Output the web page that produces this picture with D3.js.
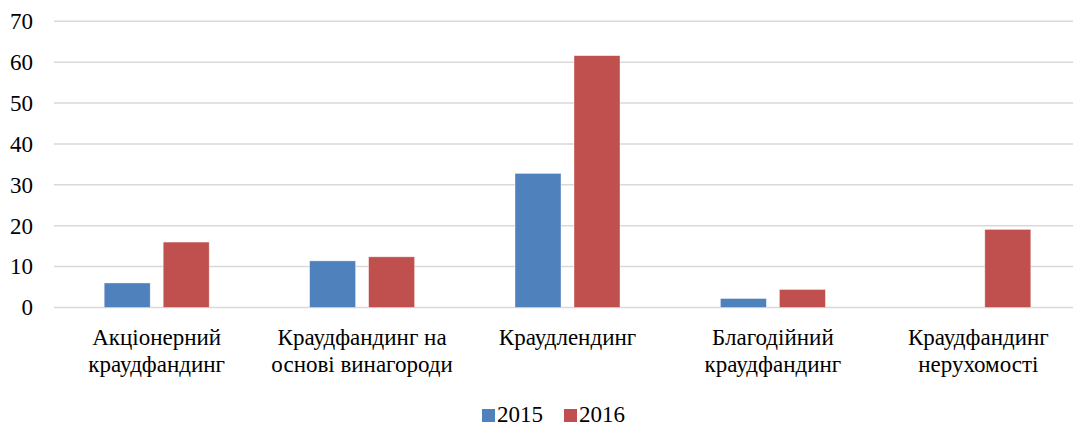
<!DOCTYPE html>
<html>
<head>
<meta charset="utf-8">
<script src="https://d3js.org/d3.v7.min.js"></script>
</head>
<body style="margin:0">
<script>
// categories and values
var categories = [
  ["Акціонерний", "краудфандинг"],
  ["Краудфандинг на", "основі винагороди"],
  ["Краудлендинг"],
  ["Благодійний", "краудфандинг"],
  ["Краудфандинг", "нерухомості"]
];
var series = ["2015", "2016"];
var values2015 = [6, 11.4, 32.8, 2.2, 0];
var values2016 = [16, 12.4, 61.6, 4.4, 19.1];
var yTicks = [0, 10, 20, 30, 40, 50, 60, 70];
var colors = ["#4F81BD", "#C0504D"];

var W = 1073, H = 426;
var plotLeft = 54, plotRight = 1081, plotTop = 21.3, plotBottom = 307.5;

var svg = d3.select("body").append("svg")
  .attr("width", W)
  .attr("height", H)
  .attr("font-family", "Liberation Serif, serif")
  .attr("font-size", 23);

var catIdx = d3.range(categories.length);

var x0 = d3.scaleBand().domain(catIdx).range([plotLeft, plotRight]);
var groupW = 105;
var x1 = d3.scaleBand().domain(series)
  .range([(x0.bandwidth() - groupW) / 2, (x0.bandwidth() + groupW) / 2])
  .paddingInner(13 / 59);

var y = d3.scaleLinear().domain([0, 70]).range([plotBottom, plotTop]);

// gridlines
svg.append("g").selectAll("line").data(yTicks).enter().append("line")
  .attr("x1", plotLeft).attr("x2", W)
  .attr("y1", function(d) { return y(d); })
  .attr("y2", function(d) { return y(d); })
  .attr("stroke", "#D9D9D9")
  .attr("stroke-width", 1.5);

// y labels
svg.selectAll("text.ytick").data(yTicks).enter().append("text")
  .attr("class", "ytick")
  .attr("x", 33)
  .attr("y", function(d) { return y(d); })
  .attr("dy", "0.34em")
  .attr("text-anchor", "end")
  .attr("font-family", "Liberation Serif, serif")
  .attr("font-size", 23)
  .text(function(d) { return d; });

// bars
var data = catIdx.map(function(i) {
  return [{s: "2015", v: values2015[i]}, {s: "2016", v: values2016[i]}];
});

var groups = svg.append("g").selectAll("g").data(data).enter().append("g")
  .attr("transform", function(d, i) { return "translate(" + x0(i) + ",0)"; });

groups.selectAll("rect").data(function(d) { return d.filter(function(e) { return e.v > 0; }); })
  .enter().append("rect")
  .attr("x", function(d) { return x1(d.s); })
  .attr("width", x1.bandwidth())
  .attr("y", function(d) { return y(d.v); })
  .attr("height", function(d) { return y(0) - y(d.v); })
  .attr("fill", function(d) { return colors[series.indexOf(d.s)]; })
  .attr("stroke", "#fff")
  .attr("stroke-opacity", 0.5)
  .attr("stroke-width", 0.75);

// category labels, one text per line
var lines = [];
categories.forEach(function(c, i) {
  c.forEach(function(t, j) { lines.push({i: i, j: j, t: t}); });
});
svg.selectAll("text.cat").data(lines).enter().append("text")
  .attr("class", "cat")
  .attr("x", function(d) { return x0(d.i) + x0.bandwidth() / 2; })
  .attr("y", function(d) { return 345 + d.j * 27; })
  .attr("text-anchor", "middle")
  .attr("font-family", "Liberation Serif, serif")
  .attr("font-size", 23)
  .text(function(d) { return d.t; });

// legend
var legend = svg.append("g").selectAll("g").data(series).enter().append("g")
  .attr("transform", function(d, i) { return "translate(" + (482 + i * 82) + ",409)"; });
legend.append("rect")
  .attr("width", 13).attr("height", 13)
  .attr("fill", function(d, i) { return colors[i]; });
legend.append("text")
  .attr("x", 15).attr("y", 13)
  .attr("font-family", "Liberation Serif, serif")
  .attr("font-size", 23)
  .text(function(d) { return d; });
</script>
</body>
</html>
